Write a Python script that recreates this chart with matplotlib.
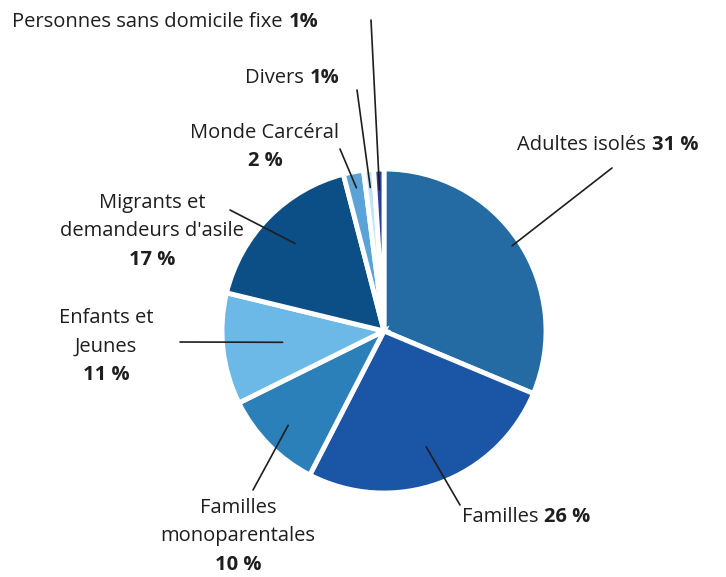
import numpy as np
import matplotlib.pyplot as plt

labels = ["Adultes isolés", "Familles", "Familles\nmonoparentales", "Enfants et\nJeunes",
          "Migrants et\ndemandeurs d'asile", "Monde Carcéral", "Divers",
          "Personnes sans domicile fixe"]
pct_text = ["31 %", "26 %", "10 %", "11 %", "17 %", "2 %", "1%", "1%"]
values = [31, 26, 10, 11, 17, 2, 1, 1]
colors = ["#246ba3", "#1a55a6", "#2b80b9", "#6cb9e8", "#0c4f86", "#5ba3d6", "#c0e3f7", "#2d3fa0"]

# label layout (pixel coords, y from top): line outer end, text anchor, mode
line_end = [(612, 168), (460, 505), (253, 490), (180, 342), (230, 210), (340, 149), (357, 90), (371, 20)]
anchor_r = [0.95, 0.76, 0.83, 0.63, 0.77, 0.9, 0.89, 0.87]
text_pos = [(517, 145, "inline"), (462, 517, "inline"), (238, 508, "stack"), (106, 318, "stack"),
            (152, 203, "stack"), (265, 133, "stack"), (245, 78, "inline"), (12, 22, "inline")]

W, H = 726, 577
cx, cy, R = 384, 331, 162

plt.rcParams['font.family'] = ['Open Sans', 'DejaVu Sans']
fig = plt.figure(figsize=(W / 100, H / 100), dpi=100)
ax = fig.add_axes([0, 0, 1, 1])

wedges, _ = ax.pie(values, colors=colors, startangle=90, counterclock=False,
                   center=(cx, H - cy), radius=R, frame=True,
                   wedgeprops=dict(edgecolor='white', linewidth=3.5))
ax.set_xlim(0, W)
ax.set_ylim(0, H)
ax.axis('off')

# leader lines
for w, r, (ex, ey) in zip(wedges, anchor_r, line_end):
    mid = np.deg2rad((w.theta1 + w.theta2) / 2)
    px = cx + r * R * np.cos(mid)
    py = (H - cy) + r * R * np.sin(mid)
    ax.plot([px, ex], [py, H - ey], color='#1e1e1e', lw=1.2, solid_capstyle='round')

fs = 14.5
txt_color = '#1e1e1e'
lh = 28.5
renderer = fig.canvas.get_renderer()
for lab, pt, (tx, ty, mode) in zip(labels, pct_text, text_pos):
    if mode == "inline":
        t = ax.text(tx, H - ty, lab, fontsize=fs, color=txt_color, ha='left', va='center')
        bb = t.get_window_extent(renderer)
        ax.text(bb.x1 + 6, H - ty, pt, fontsize=fs, color=txt_color, fontweight='bold',
                ha='left', va='center')
    else:
        lines = lab.split("\n")
        for i, ln in enumerate(lines):
            ax.text(tx, H - ty - i * lh, ln, fontsize=fs, color=txt_color, ha='center', va='center')
        ax.text(tx, H - ty - len(lines) * lh, pt, fontsize=fs, color=txt_color,
                fontweight='bold', ha='center', va='center')

fig.savefig("out.png", dpi=100)
